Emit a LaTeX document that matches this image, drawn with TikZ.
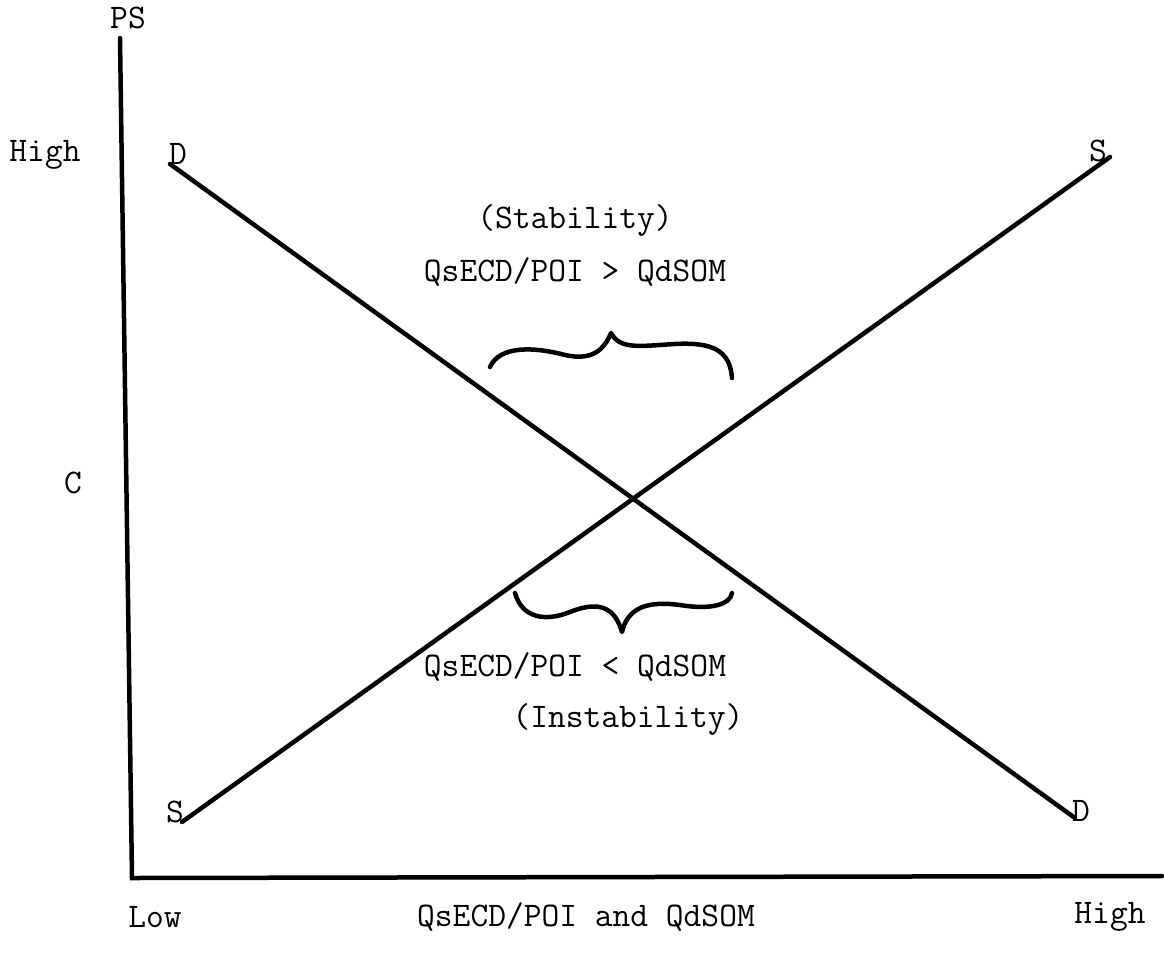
\documentclass[tikz,border=0pt]{standalone}
\begin{document}
\begin{tikzpicture}[x=1pt,y=-1pt,
  lbl/.style={font=\ttfamily\fontsize{34.5}{36}\selectfont, inner sep=0pt},
  ln/.style={line width=4.5pt, line cap=round},
  br/.style={line width=4.5pt, line cap=round, line join=round}]
\useasboundingbox (0,0) rectangle (1164,959);
% axes
\coordinate (ytop) at (120,38);
\coordinate (orig) at (132,878);
\coordinate (xend) at (1162,876);
\draw[ln] (ytop) -- (orig) -- (xend);
% curves
\coordinate (d1) at (170,164);
\coordinate (d2) at (1075,818);
\coordinate (s1) at (182,822);
\coordinate (s2) at (1110,157);
\draw[ln] (d1) -- (d2);
\draw[ln] (s1) -- (s2);
% labels
\node[lbl] (ps) at (128,18) {PS};
\node[lbl] (high) at (45,155) {High};
\node[lbl] (dtop) at (178,154) {D};
\node[lbl] (stop) at (1098,151) {S};
\node[lbl] (c) at (73,483) {C};
\node[lbl] (sbot) at (175,812) {S};
\node[lbl] (dbot) at (1081,811) {D};
\node[lbl] (low) at (155,917) {Low};
\node[lbl] (xlab) at (586,917) {QsECD/POI and QdSOM};
\node[lbl] (xhigh) at (1110,917) {High};
\node[lbl] (stab) at (575,220) {(Stability)};
\node[lbl] (gt) at (575,272) {QsECD/POI > QdSOM};
\node[lbl] (lt) at (575,667) {QsECD/POI < QdSOM};
\node[lbl] (inst) at (628,719) {(Instability)};
% braces
\draw[br] (490,367) .. controls (500,345) and (535,347) .. (565,355)
  .. controls (592,361) and (604,350) .. (611,333)
  .. controls (620,350) and (640,346) .. (675,344)
  .. controls (712,342) and (730,350) .. (732,378);
\draw[br] (515,593) .. controls (522,618) and (545,622) .. (570,612)
  .. controls (600,600) and (615,608) .. (622,632)
  .. controls (628,606) and (650,601) .. (680,605)
  .. controls (710,610) and (730,605) .. (732,593);
\end{tikzpicture}
\end{document}
